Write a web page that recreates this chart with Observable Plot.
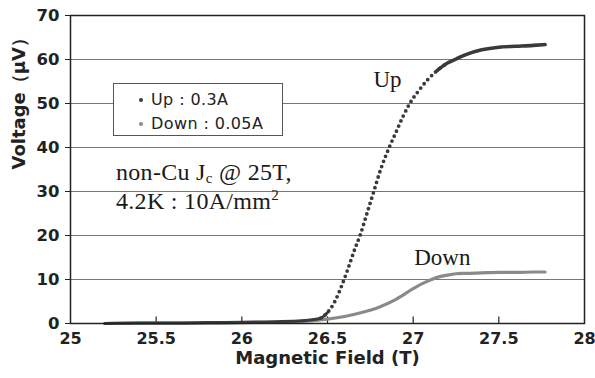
<!DOCTYPE html>
<html>
<head>
<meta charset="utf-8">
<script src="https://cdn.jsdelivr.net/npm/d3@7"></script>
<script src="https://cdn.jsdelivr.net/npm/@observablehq/plot@0.6"></script>
<style>
  html, body { margin: 0; padding: 0; background: #fff; }
  #wrap { position: relative; width: 595px; height: 378px; }
  .legend { position: absolute; left: 113px; top: 83px; width: 170px; height: 53px;
    border: 1px solid #555; background: #fff; font-family: "DejaVu Sans", sans-serif;
    font-size: 16px; color: #222; box-sizing: border-box; letter-spacing: 0.4px; }
  .legend .row { position: absolute; left: 0; height: 20px; line-height: 20px; white-space: nowrap; }
  .legend .dot { position: absolute; left: 25px; top: 8px; width: 4px; height: 4px; border-radius: 50%; }
  .legend .lbl { position: absolute; left: 37px; top: 0; }
  .note { position: absolute; left: 116px; font-family: "Liberation Serif", serif; font-size: 24px;
    color: #1a1a1a; white-space: nowrap; letter-spacing: 0.3px; }
  .note sub { font-size: 15px; vertical-align: -3px; }
  .note sup { font-size: 15px; vertical-align: 9px; }
</style>
</head>
<body>
<div id="wrap"></div>
<script>
// ---- data ----
const upField = [25.20, 25.40, 25.60, 25.80, 26.00, 26.20, 26.35, 26.42, 26.46, 26.50, 26.54, 26.58, 26.62, 26.66, 26.69, 26.73, 26.77, 26.81, 26.86, 26.90, 26.94, 26.98, 27.03, 27.08, 27.14, 27.20, 27.25, 27.30, 27.40, 27.50, 27.60, 27.70, 27.77];
const upVoltage = [0.0, 0.1, 0.1, 0.2, 0.3, 0.4, 0.6, 0.9, 1.2, 2.5, 4.8, 8.3, 12.5, 17.0, 20.0, 25.0, 30.0, 35.0, 40.0, 43.5, 47.0, 50.0, 52.8, 55.2, 57.5, 59.2, 60.1, 61.0, 62.2, 62.8, 63.0, 63.2, 63.4];
const downField = [25.20, 25.50, 25.80, 26.00, 26.20, 26.35, 26.50, 26.60, 26.70, 26.80, 26.90, 27.00, 27.05, 27.10, 27.15, 27.20, 27.25, 27.30, 27.40, 27.50, 27.60, 27.70, 27.77];
const downVoltage = [0.0, 0.1, 0.1, 0.2, 0.3, 0.5, 1.0, 1.6, 2.5, 3.7, 5.5, 7.9, 9.0, 9.9, 10.6, 11.0, 11.3, 11.4, 11.5, 11.6, 11.6, 11.7, 11.7];
const xTicks = [25, 25.5, 26, 26.5, 27, 27.5, 28];
const yTicks = [0, 10, 20, 30, 40, 50, 60, 70];
const gridY = [10, 20, 30, 40, 50, 60];
const seriesLabels = [{text: "Up", x: 26.85, y: 55.5}, {text: "Down", x: 27.17, y: 15}];
const legendItems = [{label: "Up : 0.3A", color: "#3a3a3a"}, {label: "Down : 0.05A", color: "#8a8a8a"}];
const xTitle = "Magnetic Field (T)";
const yTitle = "Voltage（μV）";

const up = upField.map((x, i) => ({x, y: upVoltage[i]}));
const down = downField.map((x, i) => ({x, y: downVoltage[i]}));
const upSolidLow = up.filter(d => d.x <= 26.50);
const upDotted = up.filter(d => d.x >= 26.46 && d.x <= 27.20);
const upSolidHigh = up.filter(d => d.x >= 27.14);

const fontAxis = "DejaVu Sans, sans-serif";
const chart = Plot.plot({
  width: 595,
  height: 378,
  marginLeft: 70,
  marginRight: 11,
  marginTop: 15,
  marginBottom: 55,
  style: {fontFamily: fontAxis, fontSize: "16px", color: "#222", background: "#fff"},
  x: {domain: [25, 28], ticks: xTicks, tickFormat: d => String(d)},
  y: {domain: [0, 70], ticks: yTicks},
  marks: [
    Plot.ruleY(gridY, {stroke: "#777", strokeWidth: 1}),
    Plot.ruleX(xTicks.slice(1, -1), {y1: 0, y2: 1.5, stroke: "#222", strokeWidth: 1.2}),
    Plot.line(down, {x: "x", y: "y", stroke: "#8a8a8a", strokeWidth: 3.2, curve: "monotone-x"}),
    Plot.line(upSolidLow, {x: "x", y: "y", stroke: "#3a3a3a", strokeWidth: 3, curve: "monotone-x"}),
    Plot.line(upDotted, {x: "x", y: "y", stroke: "#3a3a3a", strokeWidth: 3.8, strokeLinecap: "round", strokeDasharray: "0 5.5", curve: "monotone-x"}),
    Plot.line(upSolidHigh, {x: "x", y: "y", stroke: "#3a3a3a", strokeWidth: 3.6, curve: "monotone-x"}),
    Plot.frame({stroke: "#222", strokeWidth: 1.5}),
    Plot.axisX({ticks: xTicks, tickFormat: d => String(d), tickSize: 0, tickPadding: 9, label: null, fontWeight: "bold", fontSize: 16}),
    Plot.axisY({ticks: yTicks, tickSize: 5, tickPadding: 6, label: null, fontWeight: "bold", fontSize: 16.5, stroke: "#222"}),
    Plot.text([xTitle], {frameAnchor: "bottom", dy: 40, fontSize: 18, fontWeight: "bold", fill: "#222"}),
    Plot.text([yTitle], {frameAnchor: "left", dx: -51, rotate: -90, fontSize: 18, fontWeight: "bold", fill: "#222"}),
    Plot.text(seriesLabels, {x: "x", y: "y", text: "text", fontFamily: "Liberation Serif, serif", fontSize: 23, fill: "#1a1a1a"})
  ]
});
const wrap = document.getElementById("wrap");
wrap.appendChild(chart);

// legend
const lg = document.createElement("div");
lg.className = "legend";
legendItems.forEach((item, i) => {
  const row = document.createElement("div");
  row.className = "row";
  row.style.top = (6 + i * 24) + "px";
  const dot = document.createElement("span");
  dot.className = "dot";
  dot.style.background = item.color;
  const lbl = document.createElement("span");
  lbl.className = "lbl";
  lbl.textContent = item.label;
  row.appendChild(dot); row.appendChild(lbl);
  lg.appendChild(row);
});
wrap.appendChild(lg);

// annotation
const n1 = document.createElement("div");
n1.className = "note";
n1.style.top = "159px";
n1.innerHTML = "non-Cu J<sub>c</sub> @ 25T,";
wrap.appendChild(n1);
const n2 = document.createElement("div");
n2.className = "note";
n2.style.top = "187px";
n2.innerHTML = "4.2K : 10A/mm<sup>2</sup>";
wrap.appendChild(n2);
</script>
</body>
</html>
